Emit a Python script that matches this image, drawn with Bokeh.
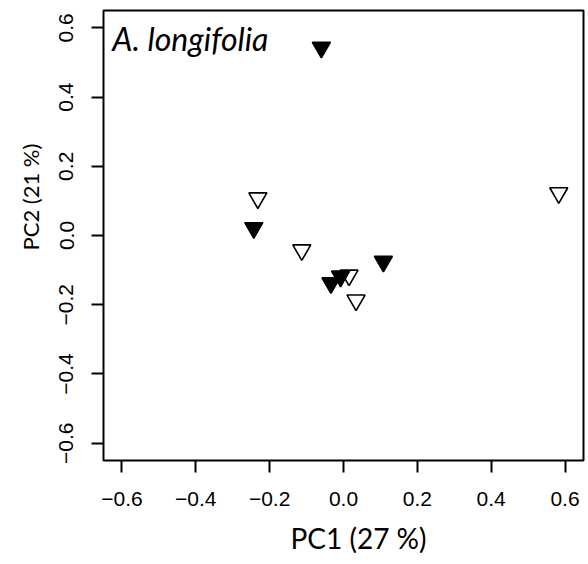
from bokeh.plotting import figure
from bokeh.models import FixedTicker, Label, Title, Range1d
from bokeh.embed import file_html
from bokeh.resources import INLINE

# ---- data ----
filled_x = [-0.060, -0.243, 0.108, -0.034, -0.008]
filled_y = [0.543, 0.022, -0.075, -0.137, -0.118]
open_x = [-0.232, -0.113, 0.583, 0.034, 0.015]
open_y = [0.108, -0.042, 0.123, -0.187, -0.115]

ticks = [-0.6, -0.4, -0.2, 0.0, 0.2, 0.4, 0.6]
tick_labels = ["\u22120.6", "\u22120.4", "\u22120.2", "0.0", "0.2", "0.4", "0.6"]

x_title = "PC1 (27 %)"
y_title = "PC2 (21 %)"
panel_title = "A. longifolia"

p = figure(width=588, height=564, output_backend="svg", toolbar_location=None,
           x_range=Range1d(-0.65, 0.65), y_range=Range1d(-0.65, 0.65),
           min_border_left=103, min_border_right=5, min_border_top=10, min_border_bottom=104)

p.background_fill_color = "white"
p.border_fill_color = "white"
p.outline_line_color = "black"
p.outline_line_width = 2
p.grid.visible = False

overrides = {t: l for t, l in zip(ticks, tick_labels)}
for ax in (p.xaxis[0], p.yaxis[0]):
    ax.ticker = FixedTicker(ticks=ticks)
    ax.major_label_overrides = overrides
    ax.minor_tick_line_color = None
    ax.axis_line_color = None
    ax.major_tick_out = 12
    ax.major_tick_in = 0
    ax.major_tick_line_width = 2
    ax.major_tick_line_color = "black"
    ax.major_label_text_font = "Liberation Sans"
    ax.major_label_text_font_size = "21px"
    ax.major_label_text_color = "black"
p.xaxis[0].major_label_standoff = 19
p.yaxis[0].major_label_standoff = 18
p.yaxis[0].major_label_orientation = "vertical"

p.add_layout(Title(text=x_title, align="left", offset=187, text_font="Lato",
                   text_font_size="28px", text_font_style="normal", text_color="black",
                   standoff=20), "below")
p.add_layout(Title(text=y_title, align="left", offset=210, text_font="Lato",
                   text_font_size="22px", text_font_style="normal", text_color="black",
                   standoff=25), "left")

p.scatter(open_x, open_y, marker="inverted_triangle", size=18,
          fill_color="white", line_color="black", line_width=1.6)
p.scatter(filled_x, filled_y, marker="inverted_triangle", size=18,
          fill_color="black", line_color="black", line_width=1.6)

p.add_layout(Label(x=-0.626, y=0.570, text=panel_title, text_font="Lato",
                   text_font_style="italic", text_font_size="32px",
                   text_baseline="alphabetic", text_align="left", text_color="black"))

open("out.html", "w").write(file_html(p, INLINE))
